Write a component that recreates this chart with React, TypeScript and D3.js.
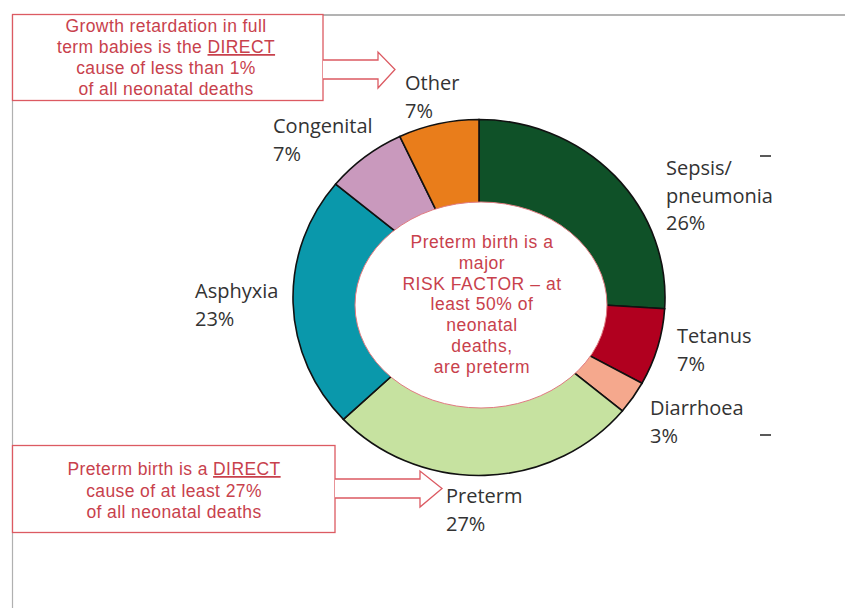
import React from "react";
import * as d3 from "d3";

const causes = ["Sepsis/\npneumonia", "Tetanus", "Diarrhoea", "Preterm", "Asphyxia", "Congenital", "Other"];
const shares = [26, 7, 3, 27, 23, 7, 7];
const colors = ["#0f5128", "#b1001f", "#f5a88d", "#c6e2a0", "#0a98ab", "#c999bd", "#e97d1b"];
const labelPos: [number, number][] = [
  [666, 175], [677, 343], [650, 415], [446, 503], [195, 298], [273, 133], [405, 90],
];

const box1Lines = ["Growth retardation in full", "term babies is the |DIRECT|", "cause of less than 1%", "of all neonatal deaths"];
const box2Lines = ["Preterm birth is a |DIRECT|", "cause of at least 27%", "of all neonatal deaths"];
const centerLines = ["Preterm birth is a", "major", "RISK FACTOR \u2013 at", "least 50% of", "neonatal", "deaths,", "are preterm"];

const RED_TEXT = "#c8414c";
const RED_LINE = "#dc5a62";
const boxFont: React.CSSProperties = { fontFamily: "'Liberation Sans', Arial, sans-serif", fontSize: 17.5, letterSpacing: 0.4 };

function Line({ text, x, y }: { text: string; x: number; y: number }) {
  const parts = text.split("|");
  return (
    <text x={x} y={y} textAnchor="middle" fill={RED_TEXT} style={boxFont}>
      {parts.map((p, i) =>
        i % 2 === 1 ? (
          <tspan key={i} textDecoration="underline" style={{ textDecoration: "underline" }}>{p}</tspan>
        ) : (
          <tspan key={i}>{p}</tspan>
        )
      )}
    </text>
  );
}

function Arrow({ x0, xb, xt, sy0, sy1, hy0, hy1 }: { x0: number; xb: number; xt: number; sy0: number; sy1: number; hy0: number; hy1: number }) {
  const mid = (sy0 + sy1) / 2;
  const d = `M${x0},${sy0} L${xb},${sy0} L${xb},${hy0} L${xt},${mid} L${xb},${hy1} L${xb},${sy1} L${x0},${sy1}`;
  return <path d={d} fill="white" stroke={RED_LINE} strokeWidth={1.3} />;
}

export default function App() {
  const cx = 479;
  const cy = 297.5;
  const R = 178;
  const pie = d3.pie<number>().sort(null).value((d) => d);
  const arcs = pie(shares);
  const arc = d3.arc<d3.PieArcDatum<number>>().innerRadius(88).outerRadius(R);
  const labelFont: React.CSSProperties = { fontFamily: "'Open Sans', 'DejaVu Sans', sans-serif", fontSize: 20, fill: "#333" };

  return (
    <svg width={845} height={608} style={{ position: "absolute", left: 0, top: 0, background: "white" }}>
      <rect x={0} y={0} width={845} height={608} fill="white" />
      {/* frame */}
      <line x1={12} y1={15} x2={845} y2={15} stroke="#9a9a9a" strokeWidth={1.5} />
      <line x1={12.5} y1={15} x2={12.5} y2={608} stroke="#b0b0b0" strokeWidth={1.2} />

      {/* donut */}
      <g transform={`translate(${cx},${cy}) scale(1.045,1)`}>
        {arcs.map((a, i) => (
          <path key={i} d={arc(a) || ""} fill={colors[i]} stroke="#111" strokeWidth={1.6} vectorEffect="non-scaling-stroke" />
        ))}
      </g>
      <ellipse cx={481} cy={305} rx={126} ry={103} fill="white" stroke="#e07a80" strokeWidth={1} />
      {centerLines.map((t, i) => (
        <text key={i} x={482} y={248 + i * 20.8} textAnchor="middle" fill={RED_TEXT} style={{ ...boxFont, fontSize: 17.5, letterSpacing: 0.55 }}>
          {t}
        </text>
      ))}

      {/* labels */}
      {causes.map((c, i) => {
        const lines = [...c.split("\n"), `${shares[i]}%`];
        const [lx, ly] = labelPos[i];
        return (
          <text key={i} x={lx} y={ly} style={labelFont}>
            {lines.map((l, j) => (
              <tspan key={j} x={lx} dy={j === 0 ? 0 : 27.5}>{l}</tspan>
            ))}
          </text>
        );
      })}
      <line x1={760} y1={156} x2={771} y2={156} stroke="#222" strokeWidth={1.5} />
      <line x1={760} y1={435} x2={771} y2={435} stroke="#222" strokeWidth={1.5} />

      {/* box 1 */}
      <rect x={12.5} y={14.5} width={310.5} height={86} fill="white" stroke={RED_LINE} strokeWidth={1.3} />
      {box1Lines.map((t, i) => (
        <Line key={i} text={t} x={166} y={32 + i * 21} />
      ))}
      <Arrow x0={323} xb={378} xt={395} sy0={60} sy1={79} hy0={52} hy1={88} />

      {/* box 2 */}
      <rect x={12.5} y={445.5} width={322.5} height={87} fill="white" stroke={RED_LINE} strokeWidth={1.3} />
      {box2Lines.map((t, i) => (
        <Line key={i} text={t} x={174} y={475 + i * 21.5} />
      ))}
      <Arrow x0={335} xb={420} xt={442} sy0={479} sy1={498} hy0={471} hy1={507} />
    </svg>
  );
}
